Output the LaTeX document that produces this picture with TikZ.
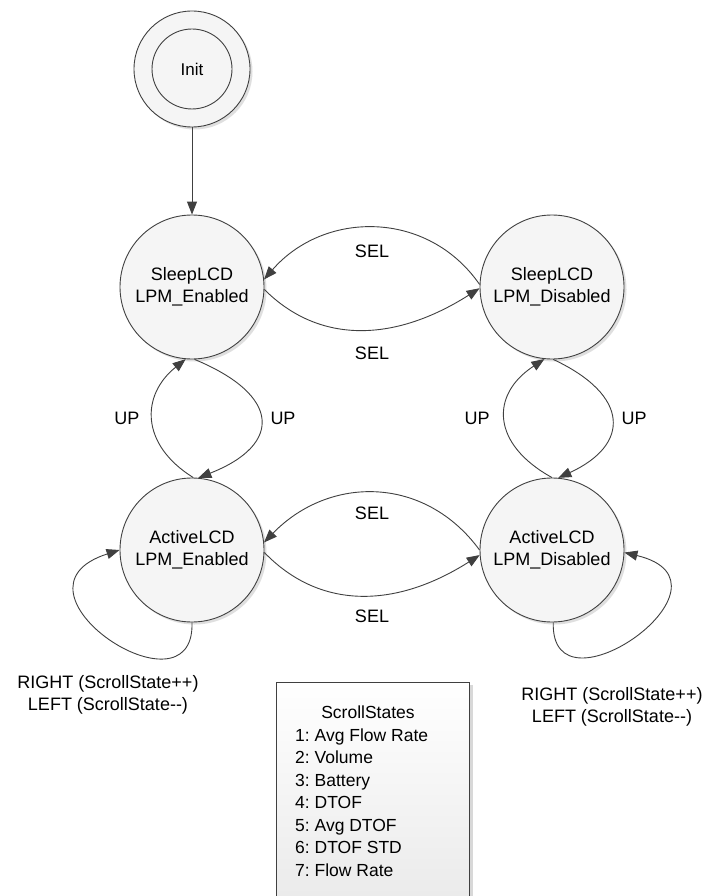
\documentclass[tikz,border=0pt]{standalone}
\usepackage{fontspec}
\setmainfont{Liberation Sans}
\usetikzlibrary{arrows.meta,shadows}
\frenchspacing
\begin{document}
\begin{tikzpicture}[x=1pt,y=1pt,
  txt/.style={font=\fontsize{18}{22.5}\selectfont, align=center, inner sep=0pt},
  state/.style={circle, draw=black!75, line width=0.9pt, minimum size=144pt, inner sep=0pt,
    fill=black!4, align=center, font=\fontsize{18}{21.5}\selectfont,
    drop shadow={shadow xshift=2.5pt, shadow yshift=-2.5pt, opacity=0.25}},
  tr/.style={draw=black!75, line width=0.9pt, -{Triangle[length=13pt,width=10pt]}}]
\useasboundingbox (0,0) rectangle (707,-896);
\clip (0,0) rectangle (707,-896);
\fill[white] (0,0) rectangle (707,-896);

% legend box
\fill[black!25, opacity=0.6] (279,-685) rectangle (473,-900);
\shade[top color=white, bottom color=black!8, draw=black!75, line width=0.9pt] (276,-682) rectangle (469,-900);
\node[txt, font=\fontsize{17.5}{22.5}\selectfont] (lgt) at (368,-712) {ScrollStates};
\node[txt, font=\fontsize{17.5}{22.5}\selectfont, align=left, anchor=west] (lgl) at (295,-802.5)
  {1: Avg Flow Rate\\2: Volume\\3: Battery\\4: DTOF\\5: Avg DTOF\\6: DTOF STD\\7: Flow Rate};

% init
\node[circle, draw=black!75, line width=0.9pt, minimum size=116pt, fill=black!4,
  drop shadow={shadow xshift=2.5pt, shadow yshift=-2.5pt, opacity=0.25}] (initO) at (192,-69) {};
\node[circle, draw=black!75, line width=0.9pt, minimum size=80pt, fill=black!4,
  font=\fontsize{17}{20}\selectfont] (init) at (192,-69) {Init};

% states
\node[state] (se) at (192,-287) {SleepLCD\\LPM\_Enabled};
\node[state] (sd) at (552,-287) {SleepLCD\\LPM\_Disabled};
\node[state] (ae) at (192,-550) {ActiveLCD\\LPM\_Enabled};
\node[state] (ad) at (552,-550) {ActiveLCD\\LPM\_Disabled};

\draw[tr] (initO.south) -- (se.north);

% SEL top row
\draw[tr] (sd.178) .. controls +(-52,75) and +(60,69) .. (se.6);
\draw[tr] (se.-2) .. controls +(55,-55) and +(-85,-54) .. (sd.181);
% SEL bottom row
\draw[tr] (ad.180) .. controls +(-55,75) and +(65,67) .. (ae.6);
\draw[tr] (ae.-2) .. controls +(55,-57) and +(-85,-54) .. (ad.184);

% UP loops left
\draw[tr] (ae.89) .. controls +(-53,33) and +(-45,-36) .. (se.-95);
\draw[tr] (se.-88) .. controls +(87,-36) and +(84,33) .. (ae.85);
% UP loops right
\draw[tr] (ad.90) .. controls +(-60,33) and +(-55,-36) .. (sd.-96);
\draw[tr] (sd.-89) .. controls +(77,-36) and +(72,33) .. (ad.85);

% self loops
\draw[tr] (ae.-90) .. controls +(3,-100) and +(-125,-40) .. (ae.180);
\draw[tr] (ad.-89) .. controls +(-3,-100) and +(125,-30) .. (ad.-2);

% labels
\node[txt] (l1) at (372,-251) {SEL};
\node[txt] (l2) at (372,-353) {SEL};
\node[txt] (l3) at (372,-513) {SEL};
\node[txt] (l4) at (372,-616) {SEL};
\node[txt] (u1) at (127,-418) {UP};
\node[txt] (u2) at (283,-418) {UP};
\node[txt] (u3) at (477,-418) {UP};
\node[txt] (u4) at (634,-418) {UP};
\node[txt] (r1) at (108,-695) {RIGHT (ScrollState++)\\LEFT (ScrollState-{}-)};
\node[txt] (r2) at (612,-707) {RIGHT (ScrollState++)\\LEFT (ScrollState-{}-)};
\end{tikzpicture}
\end{document}
